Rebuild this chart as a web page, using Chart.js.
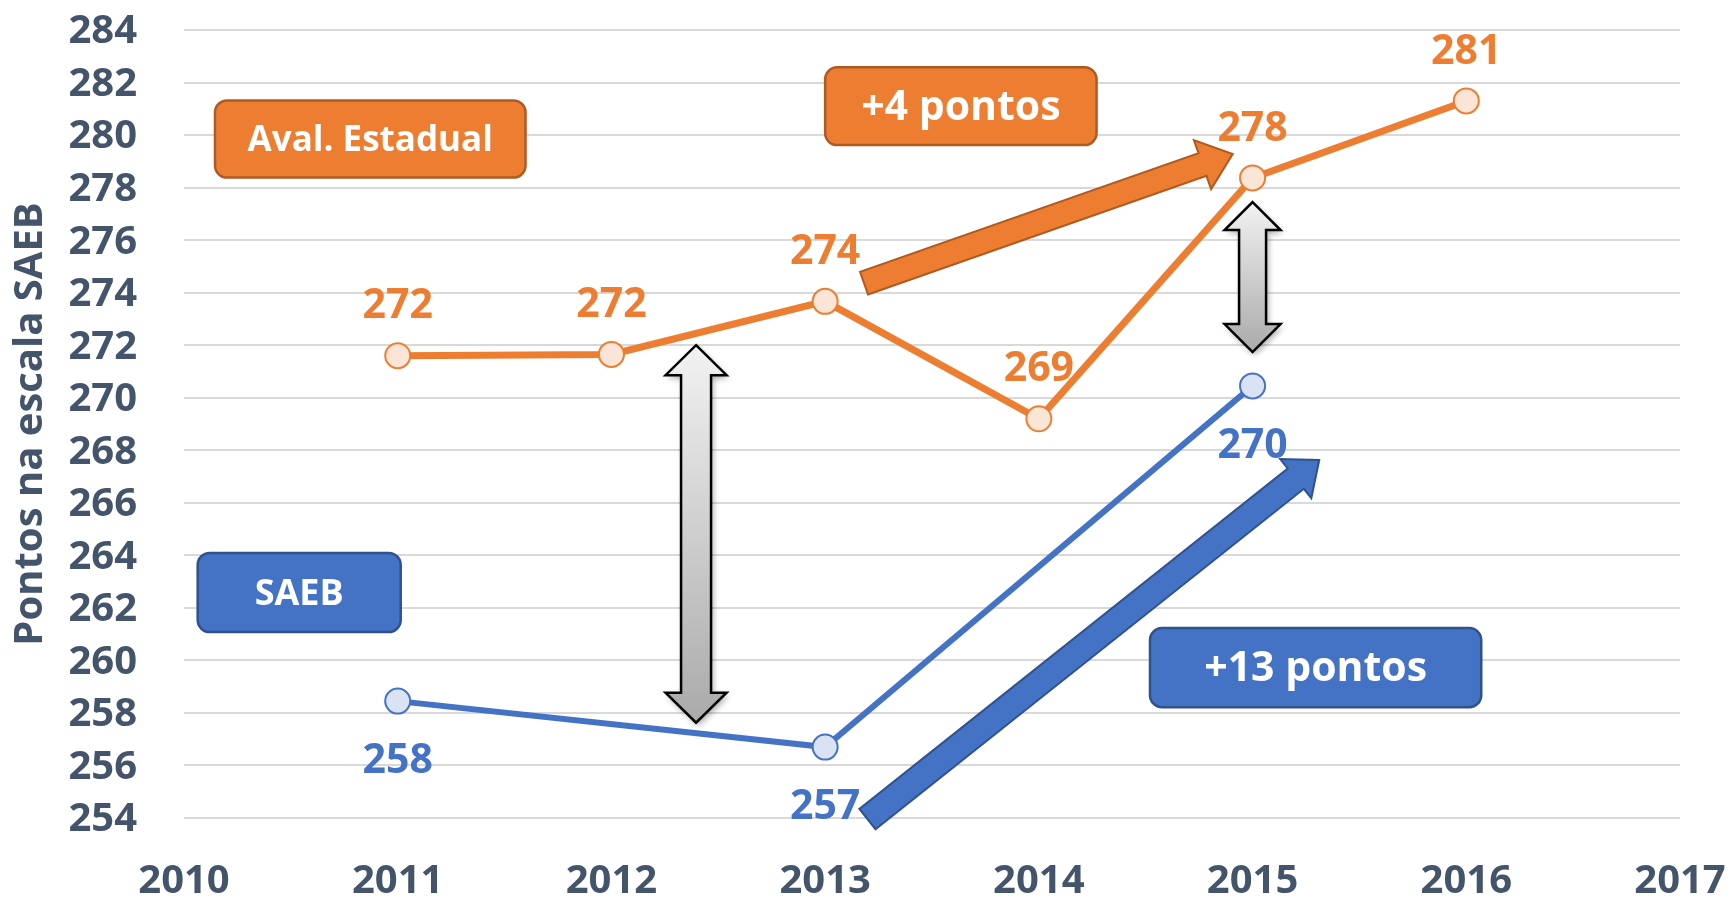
<!DOCTYPE html>
<html lang="pt">
<head>
    <meta charset="utf-8">
    <script src="https://cdn.jsdelivr.net/npm/chart.js"></script>
    <style>
        body { margin: 0; background: #fff; }
        #wrap { width: 1731px; height: 899px; }
    </style>
</head>
<body>

    <div id="wrap"><canvas id="saebChart"></canvas></div>

    <script>
        // Dados
        const estadualYears = [2011, 2012, 2013, 2014, 2015, 2016];
        const estadualValues = [271.6, 271.65, 273.67, 269.2, 278.37, 281.3];
        const saebYears = [2011, 2013, 2015];
        const saebValues = [258.45, 256.7, 270.45];
        const yearTicks = [2010, 2017];
        const pointTicks = [254, 284];

        const FONT = "'Open Sans', 'Noto Sans', sans-serif";
        const ORANGE = '#ED7D31', BLUE = '#4472C4', SLATE = '#44546A';

        // anotações (em unidades de ano / pontos)
        const boxes = [
            { text: 'Aval. Estadual', x1: 2010.145, x2: 2011.598, y1: 281.32, y2: 278.38, fill: ORANGE, stroke: '#AE5A21', size: 35 },
            { text: '+4 pontos', x1: 2013.0, x2: 2014.27, y1: 282.58, y2: 279.62, fill: ORANGE, stroke: '#AE5A21', size: 41 },
            { text: 'SAEB', x1: 2010.064, x2: 2011.014, y1: 264.09, y2: 261.08, fill: BLUE, stroke: '#2F528F', size: 36 },
            { text: '+13 pontos', x1: 2014.52, x2: 2016.07, y1: 261.23, y2: 258.22, fill: BLUE, stroke: '#2F528F', size: 41 }
        ];
        const arrows = [
            { x1: 2013.182, y1: 274.36, x2: 2014.907, y2: 279.28, sw: 24, hw: 52, hl: 32, fill: ORANGE, stroke: '#AE5A21' },
            { x1: 2013.198, y1: 253.96, x2: 2015.312, y2: 267.63, sw: 26, hw: 50, hl: 30, fill: BLUE, stroke: '#2F528F' }
        ];
        const gapArrows = [
            { x: 2012.396, top: 272.0, bottom: 257.63, sw: 30, hw: 61, hl: 30 },
            { x: 2015.0, top: 277.45, bottom: 271.74, sw: 27, hw: 56, hl: 28 }
        ];

        function roundRect(ctx, x, y, w, h, r) {
            ctx.beginPath();
            ctx.moveTo(x + r, y);
            ctx.arcTo(x + w, y, x + w, y + h, r);
            ctx.arcTo(x + w, y + h, x, y + h, r);
            ctx.arcTo(x, y + h, x, y, r);
            ctx.arcTo(x, y, x + w, y, r);
            ctx.closePath();
        }

        function blockArrow(ctx, x1, y1, x2, y2, sw, hw, hl) {
            const dx = x2 - x1, dy = y2 - y1, len = Math.hypot(dx, dy);
            const ux = dx / len, uy = dy / len, px = -uy, py = ux;
            const bx = x2 - ux * hl, by = y2 - uy * hl;
            const pts = [
                [x1 + px * sw / 2, y1 + py * sw / 2],
                [bx + px * sw / 2, by + py * sw / 2],
                [bx + px * hw / 2, by + py * hw / 2],
                [x2, y2],
                [bx - px * hw / 2, by - py * hw / 2],
                [bx - px * sw / 2, by - py * sw / 2],
                [x1 - px * sw / 2, y1 - py * sw / 2]
            ];
            ctx.beginPath();
            pts.forEach((p, i) => i ? ctx.lineTo(p[0], p[1]) : ctx.moveTo(p[0], p[1]));
            ctx.closePath();
        }

        function doubleArrow(ctx, x, yt, yb, sw, hw, hl) {
            ctx.beginPath();
            ctx.moveTo(x, yt);
            ctx.lineTo(x + hw / 2, yt + hl);
            ctx.lineTo(x + sw / 2, yt + hl);
            ctx.lineTo(x + sw / 2, yb - hl);
            ctx.lineTo(x + hw / 2, yb - hl);
            ctx.lineTo(x, yb);
            ctx.lineTo(x - hw / 2, yb - hl);
            ctx.lineTo(x - sw / 2, yb - hl);
            ctx.lineTo(x - sw / 2, yt + hl);
            ctx.lineTo(x - hw / 2, yt + hl);
            ctx.closePath();
        }

        const annotationPlugin = {
            id: 'annotations',
            afterDatasetsDraw(chart) {
                const ctx = chart.ctx;
                const xs = chart.scales.x, ys = chart.scales.y;

                // setas cinzas
                gapArrows.forEach(a => {
                    const x = xs.getPixelForValue(a.x);
                    const yt = ys.getPixelForValue(a.top), yb = ys.getPixelForValue(a.bottom);
                    ctx.save();
                    const g = ctx.createLinearGradient(0, yt, 0, yb);
                    g.addColorStop(0, '#F2F2F2');
                    g.addColorStop(1, '#AAAAAA');
                    doubleArrow(ctx, x, yt, yb, a.sw, a.hw, a.hl);
                    ctx.shadowColor = 'rgba(0,0,0,0.35)';
                    ctx.shadowBlur = 6;
                    ctx.shadowOffsetX = 2;
                    ctx.shadowOffsetY = 3;
                    ctx.fillStyle = g;
                    ctx.fill();
                    ctx.shadowColor = 'transparent';
                    ctx.lineWidth = 2.5;
                    ctx.strokeStyle = '#000';
                    ctx.lineJoin = 'miter';
                    ctx.stroke();
                    ctx.restore();
                });

                // setas de tendência
                arrows.forEach(a => {
                    ctx.save();
                    blockArrow(ctx, xs.getPixelForValue(a.x1), ys.getPixelForValue(a.y1),
                        xs.getPixelForValue(a.x2), ys.getPixelForValue(a.y2), a.sw, a.hw, a.hl);
                    ctx.fillStyle = a.fill;
                    ctx.fill();
                    ctx.lineWidth = 2;
                    ctx.strokeStyle = a.stroke;
                    ctx.stroke();
                    ctx.restore();
                });

                // caixas de texto
                boxes.forEach(b => {
                    const x1 = xs.getPixelForValue(b.x1), x2 = xs.getPixelForValue(b.x2);
                    const y1 = ys.getPixelForValue(b.y1), y2 = ys.getPixelForValue(b.y2);
                    ctx.save();
                    roundRect(ctx, x1, y1, x2 - x1, y2 - y1, 12);
                    ctx.fillStyle = b.fill;
                    ctx.fill();
                    ctx.lineWidth = 2.5;
                    ctx.strokeStyle = b.stroke;
                    ctx.stroke();
                    ctx.fillStyle = '#fff';
                    ctx.font = 'bold ' + b.size + 'px ' + FONT;
                    ctx.textAlign = 'center';
                    ctx.textBaseline = 'middle';
                    ctx.fillText(b.text, (x1 + x2) / 2, (y1 + y2) / 2 + 2);
                    ctx.restore();
                });

                // rótulos dos pontos
                ctx.save();
                ctx.font = 'bold 41px ' + FONT;
                ctx.textAlign = 'center';
                ctx.textBaseline = 'middle';
                chart.data.datasets.forEach((ds, i) => {
                    const meta = chart.getDatasetMeta(i);
                    ctx.fillStyle = ds.borderColor;
                    meta.data.forEach((pt, j) => {
                        ctx.fillText(Math.round(ds.data[j].y), pt.x, pt.y + ds.labelOffset);
                    });
                });
                ctx.restore();
            }
        };

        const ctx = document.getElementById('saebChart').getContext('2d');
        new Chart(ctx, {
            type: 'line',
            data: {
                datasets: [{
                    label: 'Aval. Estadual',
                    data: estadualYears.map((x, i) => ({ x: x, y: estadualValues[i] })),
                    borderColor: ORANGE,
                    backgroundColor: '#FBE5D6',
                    borderWidth: 7,
                    pointRadius: 12.5,
                    pointBorderWidth: 2,
                    pointBackgroundColor: '#FBE5D6',
                    pointBorderColor: ORANGE,
                    labelOffset: -49
                }, {
                    label: 'SAEB',
                    data: saebYears.map((x, i) => ({ x: x, y: saebValues[i] })),
                    borderColor: BLUE,
                    backgroundColor: '#DAE3F3',
                    borderWidth: 6,
                    pointRadius: 12.5,
                    pointBorderWidth: 2,
                    pointBackgroundColor: '#DAE3F3',
                    pointBorderColor: BLUE,
                    labelOffset: 60
                }]
            },
            options: {
                responsive: true,
                maintainAspectRatio: false,
                animation: false,
                layout: { padding: { top: 30, right: 51, bottom: 0, left: 0 } },
                scales: {
                    x: {
                        type: 'linear',
                        min: yearTicks[0],
                        max: yearTicks[1],
                        grid: { color: 'rgba(0,0,0,0)', tickColor: 'rgba(0,0,0,0)', drawTicks: true, tickLength: 40 },
                        border: { display: false },
                        ticks: {
                            stepSize: 1,
                            padding: 0,
                            autoSkip: false,
                            maxRotation: 0,
                            color: SLATE,
                            font: { family: FONT, size: 40, weight: 'bold' },
                            callback: v => String(v)
                        },
                        afterFit: s => { s.height = 81; }
                    },
                    y: {
                        min: pointTicks[0],
                        max: pointTicks[1],
                        grid: { color: '#D9D9D9', lineWidth: 2, drawTicks: true, tickLength: 47, tickColor: 'rgba(0,0,0,0)' },
                        border: { display: false },
                        ticks: {
                            stepSize: 2,
                            padding: 0,
                            labelOffset: 2,
                            autoSkip: false,
                            color: SLATE,
                            font: { family: FONT, size: 40, weight: 'bold' }
                        },
                        title: {
                            display: true,
                            text: 'Pontos na escala SAEB',
                            color: SLATE,
                            font: { family: FONT, size: 40, weight: 'bold' },
                            padding: { top: 7, bottom: 0 }
                        },
                        afterFit: s => { s.width = 184; }
                    }
                },
                plugins: {
                    legend: { display: false },
                    tooltip: { enabled: false }
                }
            },
            plugins: [annotationPlugin]
        });
    </script>

</body>
</html>
